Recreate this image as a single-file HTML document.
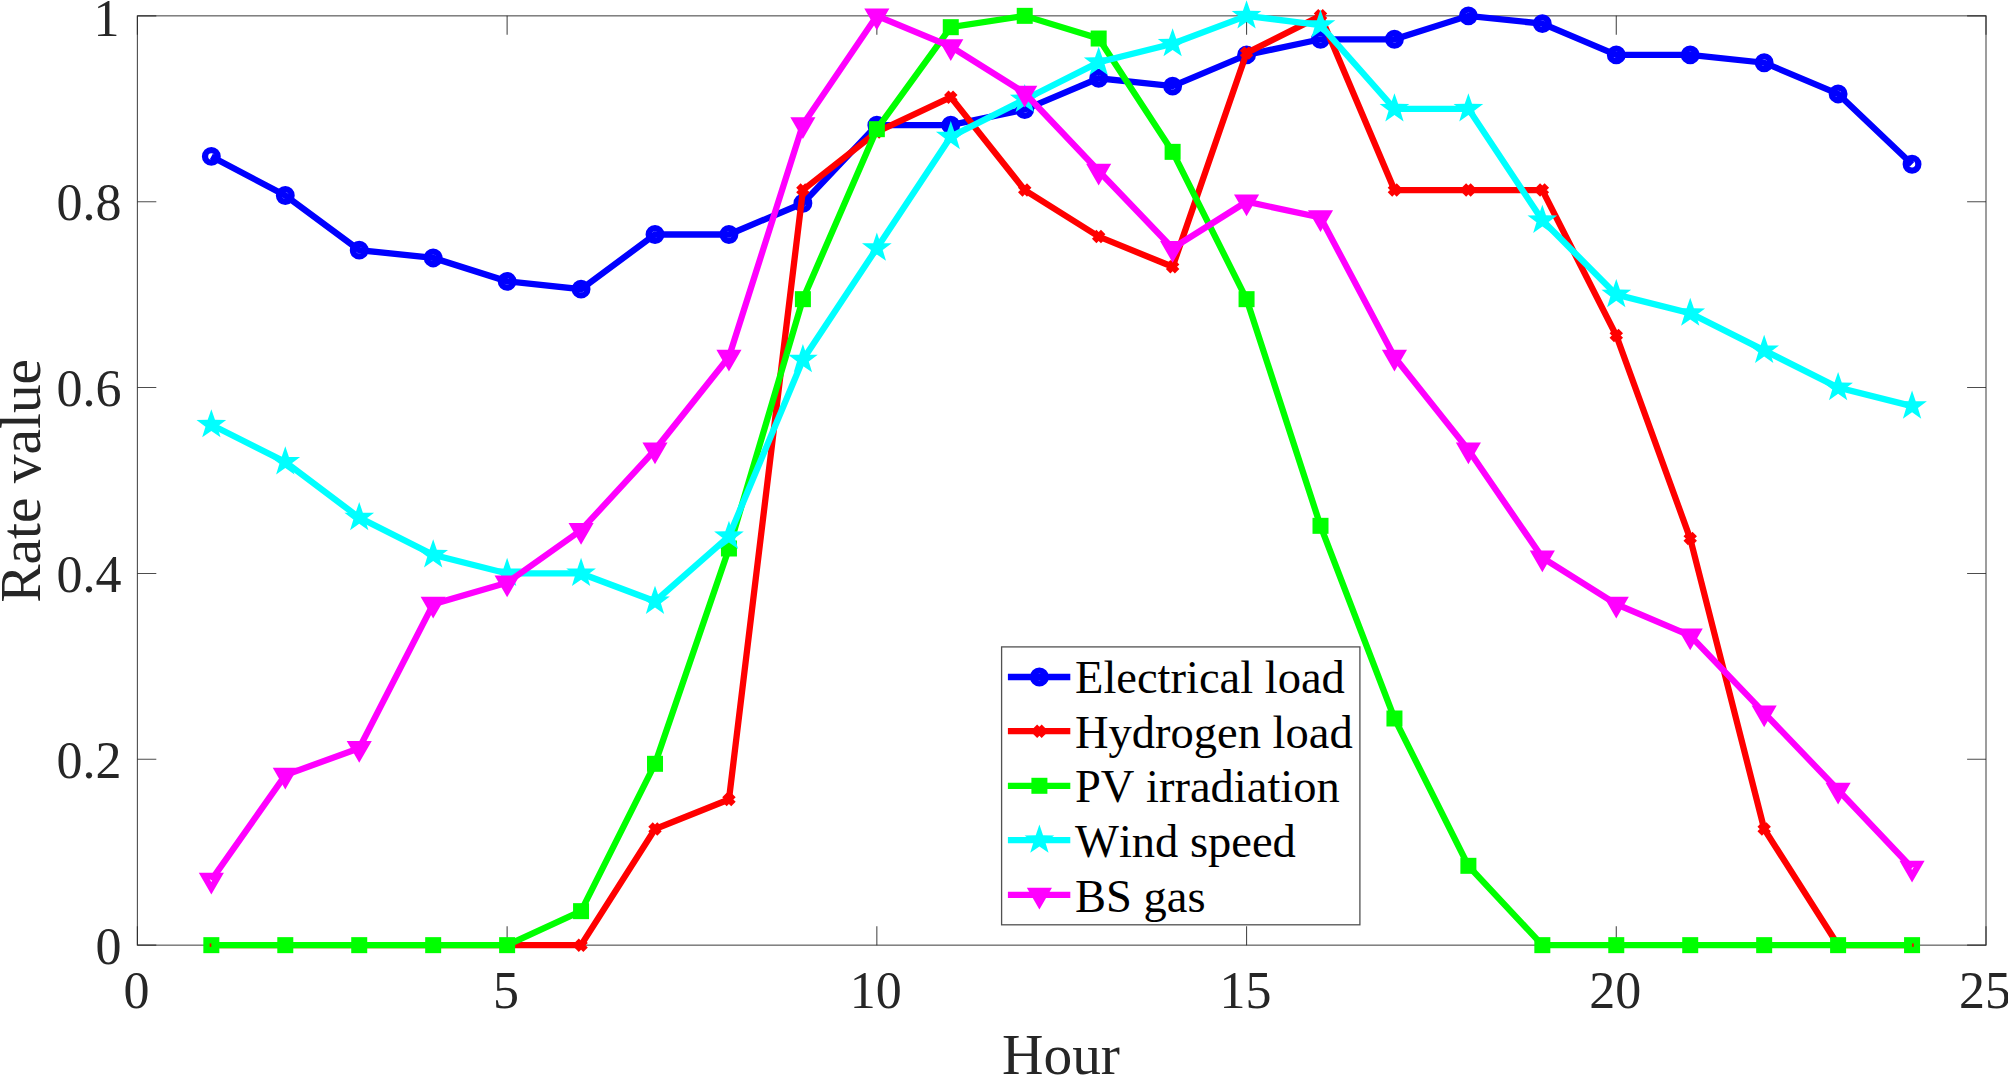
<!DOCTYPE html>
<html lang="en"><head><meta charset="utf-8"><title>Rate value by hour</title>
<style>
html,body{margin:0;padding:0;background:#fff;}
body{width:2008px;height:1075px;overflow:hidden;}
svg{display:block;}
text{font-family:"Liberation Serif","DejaVu Serif",serif;fill:#262626;font-kerning:none;font-variant-ligatures:none;}
.tick{font-size:52px;}
.lab{font-size:57.4px;}
.leg{font-size:46.5px;fill:#000;}
.ax{stroke:#262626;stroke-width:1.1;fill:none;stroke-opacity:.82}
.ln{fill:none;stroke-width:6.3;stroke-linejoin:miter;stroke-linecap:butt;}
.mk{fill:none;stroke-width:6.3;stroke-linejoin:miter;}
.mf{stroke:none;}
</style></head><body>
<svg width="2008" height="1075" viewBox="0 0 2008 1075">
<rect width="2008" height="1075" fill="#fff"/>
<g class="ax">
<rect x="137.4" y="15.85" width="1848.6" height="929.3"/>
<path d="M137.4 945.15v-18.9M137.4 15.85v18.9M507.12 945.15v-18.9M507.12 15.85v18.9M876.84 945.15v-18.9M876.84 15.85v18.9M1246.56 945.15v-18.9M1246.56 15.85v18.9M1616.28 945.15v-18.9M1616.28 15.85v18.9M1986 945.15v-18.9M1986 15.85v18.9M137.4 945.15h18.9M1986 945.15h-18.9M137.4 759.29h18.9M1986 759.29h-18.9M137.4 573.43h18.9M1986 573.43h-18.9M137.4 387.57h18.9M1986 387.57h-18.9M137.4 201.71h18.9M1986 201.71h-18.9M137.4 15.85h18.9M1986 15.85h-18.9"/>
</g>
<g class="tick" text-anchor="middle">
<text x="136.4" y="1007.8">0</text>
<text x="506.12" y="1007.8">5</text>
<text x="875.84" y="1007.8">10</text>
<text x="1245.56" y="1007.8">15</text>
<text x="1615.28" y="1007.8">20</text>
<text x="1985" y="1007.8">25</text>
</g>
<g class="tick" text-anchor="end">
<text x="121.5" y="963.75">0</text>
<text x="121.5" y="777.89">0.2</text>
<text x="121.5" y="592.03">0.4</text>
<text x="121.5" y="406.17">0.6</text>
<text x="121.5" y="220.31">0.8</text>
<text x="119.5" y="35.85">1</text>
</g>
<text class="lab" text-anchor="middle" x="1061" y="1074.3">Hour</text>
<text class="lab" text-anchor="middle" transform="translate(39.6 480.8) rotate(-90)">Rate value</text>
<g stroke="#0000ff" fill="#0000ff">
<polyline class="ln" points="211.34,156.42 285.29,195.46 359.23,250.13 433.18,257.94 507.12,281.36 581.06,289.17 655.01,234.51 728.95,234.51 802.9,203.27 876.84,125.18 950.78,125.18 1024.73,109.56 1098.67,78.32 1172.62,86.13 1246.56,54.9 1320.5,39.28 1394.45,39.28 1468.39,15.85 1542.34,23.66 1616.28,54.9 1690.22,54.9 1764.17,62.71 1838.11,93.94 1912.06,164.23"/>
<g class="mk">
<circle cx="211.34" cy="156.42" r="6.3"/>
<circle cx="285.29" cy="195.46" r="6.3"/>
<circle cx="359.23" cy="250.13" r="6.3"/>
<circle cx="433.18" cy="257.94" r="6.3"/>
<circle cx="507.12" cy="281.36" r="6.3"/>
<circle cx="581.06" cy="289.17" r="6.3"/>
<circle cx="655.01" cy="234.51" r="6.3"/>
<circle cx="728.95" cy="234.51" r="6.3"/>
<circle cx="802.9" cy="203.27" r="6.3"/>
<circle cx="876.84" cy="125.18" r="6.3"/>
<circle cx="950.78" cy="125.18" r="6.3"/>
<circle cx="1024.73" cy="109.56" r="6.3"/>
<circle cx="1098.67" cy="78.32" r="6.3"/>
<circle cx="1172.62" cy="86.13" r="6.3"/>
<circle cx="1246.56" cy="54.9" r="6.3"/>
<circle cx="1320.5" cy="39.28" r="6.3"/>
<circle cx="1394.45" cy="39.28" r="6.3"/>
<circle cx="1468.39" cy="15.85" r="6.3"/>
<circle cx="1542.34" cy="23.66" r="6.3"/>
<circle cx="1616.28" cy="54.9" r="6.3"/>
<circle cx="1690.22" cy="54.9" r="6.3"/>
<circle cx="1764.17" cy="62.71" r="6.3"/>
<circle cx="1838.11" cy="93.94" r="6.3"/>
<circle cx="1912.06" cy="164.23" r="6.3"/>
</g></g>
<g stroke="#ff0000" fill="#ff0000">
<polyline class="ln" points="211.34,945.15 285.29,945.15 359.23,945.15 433.18,945.15 507.12,945.15 581.06,945.15 655.01,828.99 728.95,799.53 802.9,190.09 876.84,132.01 950.78,97.16 1024.73,190.09 1098.67,236.56 1172.62,266.76 1246.56,53.02 1320.5,15.85 1394.45,190.09 1468.39,190.09 1542.34,190.09 1616.28,335.53 1690.22,538.58 1764.17,828.99 1838.11,945.15 1912.06,945.15"/>
<g class="mk">
<path d="M206.84 940.65l9 9M206.84 949.65l9 -9"/>
<path d="M280.79 940.65l9 9M280.79 949.65l9 -9"/>
<path d="M354.73 940.65l9 9M354.73 949.65l9 -9"/>
<path d="M428.68 940.65l9 9M428.68 949.65l9 -9"/>
<path d="M502.62 940.65l9 9M502.62 949.65l9 -9"/>
<path d="M576.56 940.65l9 9M576.56 949.65l9 -9"/>
<path d="M650.51 824.49l9 9M650.51 833.49l9 -9"/>
<path d="M724.45 795.03l9 9M724.45 804.03l9 -9"/>
<path d="M798.4 185.59l9 9M798.4 194.59l9 -9"/>
<path d="M872.34 127.51l9 9M872.34 136.51l9 -9"/>
<path d="M946.28 92.66l9 9M946.28 101.66l9 -9"/>
<path d="M1020.23 185.59l9 9M1020.23 194.59l9 -9"/>
<path d="M1094.17 232.06l9 9M1094.17 241.06l9 -9"/>
<path d="M1168.12 262.26l9 9M1168.12 271.26l9 -9"/>
<path d="M1242.06 48.52l9 9M1242.06 57.52l9 -9"/>
<path d="M1316 11.35l9 9M1316 20.35l9 -9"/>
<path d="M1389.95 185.59l9 9M1389.95 194.59l9 -9"/>
<path d="M1463.89 185.59l9 9M1463.89 194.59l9 -9"/>
<path d="M1537.84 185.59l9 9M1537.84 194.59l9 -9"/>
<path d="M1611.78 331.03l9 9M1611.78 340.03l9 -9"/>
<path d="M1685.72 534.08l9 9M1685.72 543.08l9 -9"/>
<path d="M1759.67 824.49l9 9M1759.67 833.49l9 -9"/>
<path d="M1833.61 940.65l9 9M1833.61 949.65l9 -9"/>
<path d="M1907.56 940.65l9 9M1907.56 949.65l9 -9"/>
</g></g>
<g stroke="#00ff00" fill="#00ff00">
<polyline class="ln" points="211.34,945.15 285.29,945.15 359.23,945.15 433.18,945.15 507.12,945.15 581.06,911.15 655.01,763.82 728.95,548.5 802.9,299.17 876.84,129.18 950.78,27.18 1024.73,15.85 1098.67,38.52 1172.62,151.85 1246.56,299.17 1320.5,525.83 1394.45,718.49 1468.39,865.82 1542.34,945.15 1616.28,945.15 1690.22,945.15 1764.17,945.15 1838.11,945.15 1912.06,945.15"/>
<g class="mk">
<rect x="206.49" y="940.3" width="9.7" height="9.7"/>
<rect x="280.44" y="940.3" width="9.7" height="9.7"/>
<rect x="354.38" y="940.3" width="9.7" height="9.7"/>
<rect x="428.33" y="940.3" width="9.7" height="9.7"/>
<rect x="502.27" y="940.3" width="9.7" height="9.7"/>
<rect x="576.21" y="906.3" width="9.7" height="9.7"/>
<rect x="650.16" y="758.97" width="9.7" height="9.7"/>
<rect x="724.1" y="543.65" width="9.7" height="9.7"/>
<rect x="798.05" y="294.32" width="9.7" height="9.7"/>
<rect x="871.99" y="124.33" width="9.7" height="9.7"/>
<rect x="945.93" y="22.33" width="9.7" height="9.7"/>
<rect x="1019.88" y="11" width="9.7" height="9.7"/>
<rect x="1093.82" y="33.67" width="9.7" height="9.7"/>
<rect x="1167.77" y="147" width="9.7" height="9.7"/>
<rect x="1241.71" y="294.32" width="9.7" height="9.7"/>
<rect x="1315.65" y="520.98" width="9.7" height="9.7"/>
<rect x="1389.6" y="713.64" width="9.7" height="9.7"/>
<rect x="1463.54" y="860.97" width="9.7" height="9.7"/>
<rect x="1537.49" y="940.3" width="9.7" height="9.7"/>
<rect x="1611.43" y="940.3" width="9.7" height="9.7"/>
<rect x="1685.37" y="940.3" width="9.7" height="9.7"/>
<rect x="1759.32" y="940.3" width="9.7" height="9.7"/>
<rect x="1833.26" y="940.3" width="9.7" height="9.7"/>
<rect x="1907.21" y="940.3" width="9.7" height="9.7"/>
</g></g>
<g stroke="#00ffff" fill="#00ffff">
<polyline class="ln" points="211.34,424.74 285.29,461.91 359.23,517.67 433.18,554.84 507.12,573.43 581.06,573.43 655.01,601.31 728.95,536.26 802.9,359.69 876.84,248.18 950.78,136.66 1024.73,99.49 1098.67,62.32 1172.62,43.73 1246.56,15.85 1320.5,25.14 1394.45,108.78 1468.39,108.78 1542.34,220.3 1616.28,294.64 1690.22,313.23 1764.17,350.4 1838.11,387.57 1912.06,406.16"/>
<g class="mf">
<polygon points="211.34,409.14 214.99,419.73 226.18,419.92 217.24,426.66 220.51,437.36 211.34,430.94 202.17,437.36 205.45,426.66 196.51,419.92 207.7,419.73"/>
<polygon points="285.29,446.31 288.93,456.9 300.12,457.09 291.18,463.83 294.46,474.53 285.29,468.11 276.12,474.53 279.39,463.83 270.45,457.09 281.64,456.9"/>
<polygon points="359.23,502.07 362.88,512.66 374.07,512.85 365.13,519.59 368.4,530.29 359.23,523.87 350.06,530.29 353.34,519.59 344.4,512.85 355.59,512.66"/>
<polygon points="433.18,539.24 436.82,549.83 448.01,550.02 439.07,556.76 442.35,567.46 433.18,561.04 424.01,567.46 427.28,556.76 418.34,550.02 429.53,549.83"/>
<polygon points="507.12,557.83 510.76,568.41 521.96,568.61 513.02,575.35 516.29,586.05 507.12,579.63 497.95,586.05 501.22,575.35 492.28,568.61 503.48,568.41"/>
<polygon points="581.06,557.83 584.71,568.41 595.9,568.61 586.96,575.35 590.23,586.05 581.06,579.63 571.89,586.05 575.17,575.35 566.23,568.61 577.42,568.41"/>
<polygon points="655.01,585.71 658.65,596.29 669.84,596.49 660.9,603.22 664.18,613.93 655.01,607.51 645.84,613.93 649.11,603.22 640.17,596.49 651.36,596.29"/>
<polygon points="728.95,520.66 732.6,531.24 743.79,531.44 734.85,538.17 738.12,548.88 728.95,542.46 719.78,548.88 723.06,538.17 714.12,531.44 725.31,531.24"/>
<polygon points="802.9,344.09 806.54,354.68 817.73,354.87 808.79,361.61 812.07,372.31 802.9,365.89 793.73,372.31 797,361.61 788.06,354.87 799.25,354.68"/>
<polygon points="876.84,232.58 880.48,243.16 891.68,243.35 882.74,250.09 886.01,260.8 876.84,254.38 867.67,260.8 870.94,250.09 862,243.35 873.2,243.16"/>
<polygon points="950.78,121.06 954.43,131.64 965.62,131.84 956.68,138.57 959.95,149.28 950.78,142.86 941.61,149.28 944.89,138.57 935.95,131.84 947.14,131.64"/>
<polygon points="1024.73,83.89 1028.37,94.47 1039.56,94.67 1030.62,101.4 1033.9,112.11 1024.73,105.69 1015.56,112.11 1018.83,101.4 1009.89,94.67 1021.08,94.47"/>
<polygon points="1098.67,46.72 1102.32,57.3 1113.51,57.49 1104.57,64.23 1107.84,74.94 1098.67,68.52 1089.5,74.94 1092.78,64.23 1083.84,57.49 1095.03,57.3"/>
<polygon points="1172.62,28.13 1176.26,38.71 1187.45,38.91 1178.51,45.64 1181.79,56.35 1172.62,49.93 1163.45,56.35 1166.72,45.64 1157.78,38.91 1168.97,38.71"/>
<polygon points="1246.56,0.25 1250.2,10.83 1261.4,11.03 1252.46,17.77 1255.73,28.47 1246.56,22.05 1237.39,28.47 1240.66,17.77 1231.72,11.03 1242.92,10.83"/>
<polygon points="1320.5,9.54 1324.15,20.13 1335.34,20.32 1326.4,27.06 1329.67,37.76 1320.5,31.34 1311.33,37.76 1314.61,27.06 1305.67,20.32 1316.86,20.13"/>
<polygon points="1394.45,93.18 1398.09,103.76 1409.28,103.96 1400.34,110.7 1403.62,121.4 1394.45,114.98 1385.28,121.4 1388.55,110.7 1379.61,103.96 1390.8,103.76"/>
<polygon points="1468.39,93.18 1472.04,103.76 1483.23,103.96 1474.29,110.7 1477.56,121.4 1468.39,114.98 1459.22,121.4 1462.5,110.7 1453.56,103.96 1464.75,103.76"/>
<polygon points="1542.34,204.7 1545.98,215.28 1557.17,215.48 1548.23,222.21 1551.51,232.92 1542.34,226.5 1533.17,232.92 1536.44,222.21 1527.5,215.48 1538.69,215.28"/>
<polygon points="1616.28,279.04 1619.92,289.62 1631.12,289.82 1622.18,296.56 1625.45,307.26 1616.28,300.84 1607.11,307.26 1610.38,296.56 1601.44,289.82 1612.64,289.62"/>
<polygon points="1690.22,297.63 1693.87,308.21 1705.06,308.41 1696.12,315.14 1699.39,325.85 1690.22,319.43 1681.05,325.85 1684.33,315.14 1675.39,308.41 1686.58,308.21"/>
<polygon points="1764.17,334.8 1767.81,345.38 1779,345.58 1770.06,352.31 1773.34,363.02 1764.17,356.6 1755,363.02 1758.27,352.31 1749.33,345.58 1760.52,345.38"/>
<polygon points="1838.11,371.97 1841.76,382.55 1852.95,382.75 1844.01,389.49 1847.28,400.19 1838.11,393.77 1828.94,400.19 1832.22,389.49 1823.28,382.75 1834.47,382.55"/>
<polygon points="1912.06,390.56 1915.7,401.14 1926.89,401.34 1917.95,408.07 1921.23,418.78 1912.06,412.36 1902.89,418.78 1906.16,408.07 1897.22,401.34 1908.41,401.14"/>
</g></g>
<g stroke="#ff00ff" fill="#ff00ff">
<polyline class="ln" points="211.34,880.1 285.29,775.09 359.23,748.14 433.18,604.1 507.12,582.72 581.06,530.22 655.01,449.83 728.95,356.9 802.9,124.58 876.84,15.85 950.78,46.52 1024.73,92.98 1098.67,171.04 1172.62,248.18 1246.56,201.71 1320.5,217.51 1394.45,356.9 1468.39,449.83 1542.34,557.63 1616.28,604.1 1690.22,635.69 1764.17,712.83 1838.11,789.96 1912.06,868.02"/>
<g class="mk">
<path d="M204.24 876L218.45 876L211.34 888.3Z"/>
<path d="M278.19 770.99L292.39 770.99L285.29 783.29Z"/>
<path d="M352.13 744.04L366.33 744.04L359.23 756.34Z"/>
<path d="M426.07 600L440.28 600L433.18 612.3Z"/>
<path d="M500.02 578.62L514.22 578.62L507.12 590.92Z"/>
<path d="M573.96 526.12L588.17 526.12L581.06 538.42Z"/>
<path d="M647.91 445.73L662.11 445.73L655.01 458.03Z"/>
<path d="M721.85 352.8L736.05 352.8L728.95 365.1Z"/>
<path d="M795.79 120.48L810 120.48L802.9 132.78Z"/>
<path d="M869.74 11.75L883.94 11.75L876.84 24.05Z"/>
<path d="M943.68 42.42L957.89 42.42L950.78 54.72Z"/>
<path d="M1017.63 88.88L1031.83 88.88L1024.73 101.18Z"/>
<path d="M1091.57 166.94L1105.77 166.94L1098.67 179.24Z"/>
<path d="M1165.51 244.08L1179.72 244.08L1172.62 256.38Z"/>
<path d="M1239.46 197.61L1253.66 197.61L1246.56 209.91Z"/>
<path d="M1313.4 213.41L1327.61 213.41L1320.5 225.71Z"/>
<path d="M1387.35 352.8L1401.55 352.8L1394.45 365.1Z"/>
<path d="M1461.29 445.73L1475.49 445.73L1468.39 458.03Z"/>
<path d="M1535.23 553.53L1549.44 553.53L1542.34 565.83Z"/>
<path d="M1609.18 600L1623.38 600L1616.28 612.3Z"/>
<path d="M1683.12 631.59L1697.33 631.59L1690.22 643.89Z"/>
<path d="M1757.07 708.73L1771.27 708.73L1764.17 721.03Z"/>
<path d="M1831.01 785.86L1845.21 785.86L1838.11 798.16Z"/>
<path d="M1904.95 863.92L1919.16 863.92L1912.06 876.22Z"/>
</g></g>
<rect x="1001.6" y="646.9" width="358.3" height="277.9" fill="#fff" stroke="#262626" stroke-width="1.3" stroke-opacity=".8"/>
<g stroke="#0000ff" fill="#0000ff">
<path class="ln" d="M1007.9 677H1070.3"/>
<g class="mk"><circle cx="1039.4" cy="677" r="6.3"/></g>
</g>
<text class="leg" x="1075" y="693.3">Electrical load</text>
<g stroke="#ff0000" fill="#ff0000">
<path class="ln" d="M1007.9 731.2H1070.3"/>
<g class="mk"><path d="M1034.9 726.7l9 9M1034.9 735.7l9 -9"/></g>
</g>
<text class="leg" x="1075" y="747.5">Hydrogen load</text>
<g stroke="#00ff00" fill="#00ff00">
<path class="ln" d="M1007.9 785.8H1070.3"/>
<g class="mk"><rect x="1034.55" y="780.95" width="9.7" height="9.7"/></g>
</g>
<text class="leg" x="1075" y="802.1">PV irradiation</text>
<g stroke="#00ffff" fill="#00ffff">
<path class="ln" d="M1007.9 840.2H1070.3"/>
<g class="mf"><polygon points="1039.4,824.6 1043.04,835.18 1054.24,835.38 1045.3,842.12 1048.57,852.82 1039.4,846.4 1030.23,852.82 1033.5,842.12 1024.56,835.38 1035.76,835.18"/></g>
</g>
<text class="leg" x="1075" y="856.5">Wind speed</text>
<g stroke="#ff00ff" fill="#ff00ff">
<path class="ln" d="M1007.9 894.9H1070.3"/>
<g class="mk"><path d="M1032.3 890.8L1046.5 890.8L1039.4 903.1Z"/></g>
</g>
<text class="leg" x="1075" y="912.2">BS gas</text>
</svg></body></html>
